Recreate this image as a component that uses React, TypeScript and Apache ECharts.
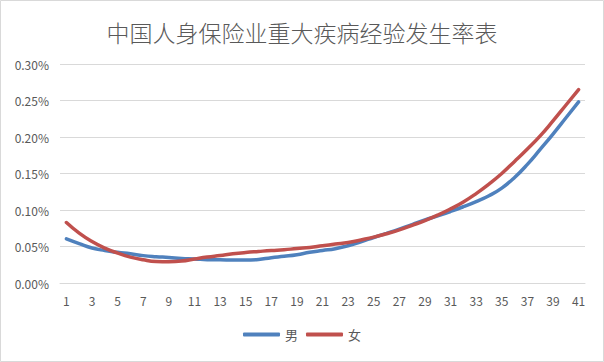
import React, { useEffect, useRef } from "react";
import * as echarts from "echarts";

const TITLE = "中国人身保险业重大疾病经验发生率表";
const categories: string[] = Array.from({ length: 41 }, (_, i) => String(i + 1));
const maleRates: number[] = [
  0.0605, 0.054, 0.048, 0.0445, 0.042, 0.04, 0.0375, 0.036, 0.035, 0.0336,
  0.033, 0.032, 0.0318, 0.0315, 0.0314, 0.0322, 0.0346, 0.0365, 0.0387, 0.042,
  0.0445, 0.047, 0.051, 0.0565, 0.0623, 0.068, 0.0738, 0.08, 0.0865, 0.092,
  0.098, 0.1045, 0.1115, 0.1195, 0.13, 0.1445, 0.1625, 0.183, 0.204, 0.226, 0.248,
];
const femaleRates: number[] = [
  0.0828, 0.0683, 0.0568, 0.0478, 0.041, 0.0355, 0.0318, 0.0295, 0.0291, 0.03,
  0.0328, 0.0355, 0.0377, 0.04, 0.0418, 0.0432, 0.0445, 0.0455, 0.0473, 0.0486,
  0.051, 0.0533, 0.0555, 0.059, 0.0628, 0.0675, 0.0728, 0.079, 0.0855, 0.093,
  0.1015, 0.111, 0.1225, 0.1355, 0.15, 0.1665, 0.1835, 0.2015, 0.222, 0.2435, 0.265,
];
const seriesNames = ["男", "女"];
const colors = ["#4F81BD", "#C0504D"];

const FONT = "'Microsoft YaHei', 'Noto Sans CJK SC', sans-serif";

export default function App() {
  const ref = useRef<HTMLDivElement>(null);
  useEffect(() => {
    if (!ref.current) return;
    const chart = echarts.init(ref.current, null, { renderer: "svg" });
    chart.setOption({
      animation: false,
      backgroundColor: "#ffffff",
      color: colors,
      title: {
        text: TITLE,
        left: "center",
        top: 15,
        textStyle: { fontFamily: FONT, fontSize: 23, fontWeight: 300, color: "#595959" },
      },
      graphic: [
        {
          type: "rect",
          shape: { x: 0.5, y: 0.5, width: 603, height: 361 },
          style: { fill: "none", stroke: "#d9d9d9", lineWidth: 1 },
          silent: true,
        },
      ],
      legend: {
        bottom: 16,
        left: "center",
        icon: "roundRect",
        itemWidth: 37,
        itemHeight: 4,
        itemGap: 8,
        textStyle: { fontFamily: FONT, fontSize: 13, color: "#595959" },
        data: seriesNames,
      },
      grid: { left: 60, right: 19, top: 64, bottom: 79 },
      xAxis: {
        type: "category",
        data: categories,
        boundaryGap: true,
        axisLine: { lineStyle: { color: "#d9d9d9" } },
        axisTick: { show: false },
        axisLabel: {
          interval: 1,
          margin: 11,
          fontFamily: FONT,
          fontSize: 12,
          color: "#595959",
        },
      },
      yAxis: {
        type: "value",
        min: 0,
        max: 0.3,
        interval: 0.05,
        axisLine: { show: false },
        axisTick: { show: false },
        splitLine: { lineStyle: { color: "#d9d9d9" } },
        axisLabel: {
          margin: 11,
          fontFamily: FONT,
          fontSize: 12,
          color: "#595959",
          formatter: (v: number) => v.toFixed(2) + "%",
        },
      },
      series: [
        {
          name: seriesNames[0],
          type: "line",
          data: maleRates,
          smooth: true,
          showSymbol: false,
          symbol: "none",
          lineStyle: { width: 3.5, color: colors[0], cap: "round" },
          itemStyle: { color: colors[0] },
        },
        {
          name: seriesNames[1],
          type: "line",
          data: femaleRates,
          smooth: true,
          showSymbol: false,
          symbol: "none",
          lineStyle: { width: 3.5, color: colors[1], cap: "round" },
          itemStyle: { color: colors[1] },
        },
      ],
    });
    return () => chart.dispose();
  }, []);
  return (
    <div
      ref={ref}
      style={{ position: "fixed", left: 0, top: 0, width: 604, height: 362 }}
    />
  );
}
